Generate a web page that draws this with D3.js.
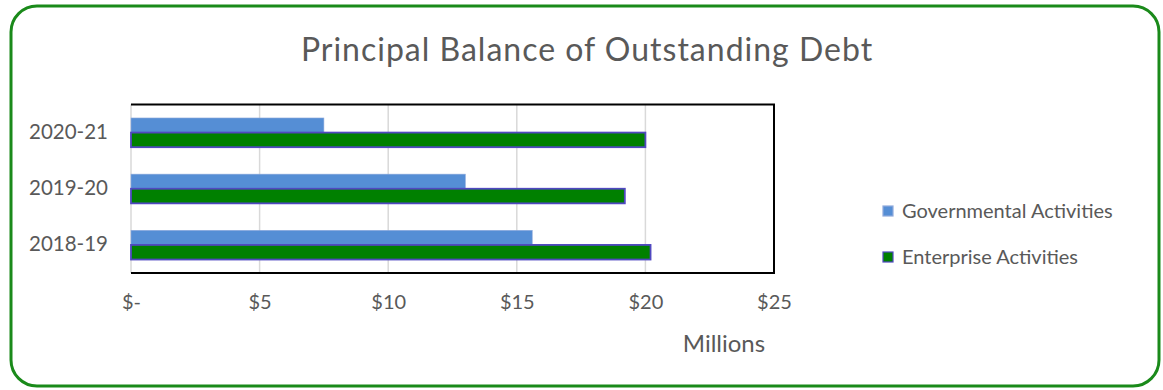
<!DOCTYPE html>
<html><head><meta charset="utf-8">
<script src="https://cdn.jsdelivr.net/npm/d3@7"></script>
<style>body{margin:0;background:#fff;}svg{display:block;}</style>
</head><body>
<svg id="c" width="1163" height="390"></svg>
<script>
const categories = ["2020-21", "2019-20", "2018-19"];
const governmental = [7.5, 13.0, 15.6];
const enterprise = [20.0, 19.2, 20.2];
const tickValues = [0, 5, 10, 15, 20, 25];
const tickLabels = ["$-", "$5", "$10", "$15", "$20", "$25"];
const seriesNames = ["Governmental Activities", "Enterprise Activities"];

const svg = d3.select("#c");
const font = "Lato, 'Open Sans', sans-serif";
const txt = "#595959";

svg.append("rect").attr("x", 11).attr("y", 6).attr("width", 1148).attr("height", 380)
  .attr("rx", 26).attr("fill", "#fff").attr("stroke", "#1a8a1a").attr("stroke-width", 3);

svg.append("text").attr("x", 587).attr("y", 61).attr("text-anchor", "middle")
  .attr("font-family", font).attr("font-size", 32).attr("letter-spacing", 1).attr("fill", txt)
  .text("Principal Balance of Outstanding Debt");

const L = 131, R = 774, T = 104.5, B = 273;
const x = d3.scaleLinear().domain([0, 25]).range([L, R]);
const y = d3.scaleBand().domain(categories).range([T, B]).paddingInner(0.48).paddingOuter(0.24);
const sub = d3.scaleBand().domain([0, 1]).range([0, y.bandwidth()]);

svg.append("g").selectAll("line").data(tickValues).join("line")
  .attr("x1", d => x(d)).attr("x2", d => x(d)).attr("y1", T).attr("y2", B)
  .attr("stroke", "#d9d9d9").attr("stroke-width", 1.5);

const g = svg.append("g");
categories.forEach((c, i) => {
  g.append("rect").attr("x", x(0)).attr("y", y(c) + sub(0))
    .attr("width", x(governmental[i]) - x(0)).attr("height", sub.bandwidth())
    .attr("fill", "#558ed5").attr("stroke", "#8faadc").attr("stroke-width", 0.6);
  g.append("rect").attr("x", x(0)).attr("y", y(c) + sub(1))
    .attr("width", x(enterprise[i]) - x(0)).attr("height", sub.bandwidth())
    .attr("fill", "#008000").attr("stroke", "#5048c0").attr("stroke-width", 1.8);
});

svg.append("path").attr("d", `M${L},${T}H${R}V${B}H${L}`).attr("fill", "none")
  .attr("stroke", "#000").attr("stroke-width", 2);

const xAxis = d3.axisBottom(x).tickValues(tickValues).tickFormat((d, i) => tickLabels[i]).tickSize(0).tickPadding(0);
const xa = svg.append("g").attr("transform", `translate(0,${B + 22})`).call(xAxis);
xa.select(".domain").remove();
xa.selectAll("text").attr("font-family", font).attr("font-size", 20).attr("fill", txt).attr("dy", "0.71em");

const yAxis = d3.axisLeft(y).tickSize(0).tickPadding(0);
const ya = svg.append("g").attr("transform", `translate(${L - 23},0)`).call(yAxis);
ya.select(".domain").remove();
ya.selectAll("text").attr("font-family", font).attr("font-size", 20.5).attr("fill", txt);

svg.append("text").attr("x", 724).attr("y", 352).attr("text-anchor", "middle")
  .attr("font-family", font).attr("font-size", 24).attr("fill", txt).text("Millions");

const leg = svg.append("g");
const legY = [211, 257];
const legFill = ["#558ed5", "#008000"];
const legStroke = ["#8faadc", "#5048c0"];
seriesNames.forEach((n, i) => {
  leg.append("rect").attr("x", 883).attr("y", legY[i] - 5).attr("width", 10).attr("height", 10)
    .attr("fill", legFill[i]).attr("stroke", legStroke[i]).attr("stroke-width", 1.2);
  leg.append("text").attr("x", 902).attr("y", legY[i]).attr("dy", "0.35em")
    .attr("font-family", font).attr("font-size", 20).attr("fill", txt).text(n);
});
</script>
</body></html>
